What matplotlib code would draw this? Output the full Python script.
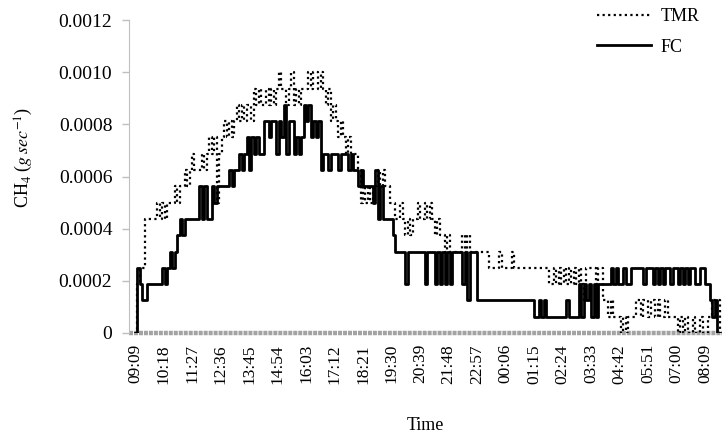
import matplotlib
matplotlib.use("Agg")
import matplotlib.pyplot as plt
import numpy as np

# one sample every 6 minutes, starting at 09:09
SAMPLE_MIN = 6
LEVEL = 0.0000625  # sensor resolution, g/sec per level

# FC (solid) readings, in sensor levels
FC = [
    0, 4, 3, 2, 2, 3, 3, 3, 3, 3, 3, 4, 3, 4, 5, 4, 5, 6, 7, 6,
    7, 7, 7, 7, 7, 7, 9, 7, 9, 7, 7, 9, 8, 9, 9, 9, 9, 9, 10, 9,
    10, 10, 11, 10, 11, 12, 10, 12, 11, 12, 11, 11, 13, 13, 12, 13, 13, 11, 13, 12,
    14, 11, 13, 13, 11, 12, 11, 12, 14, 13, 14, 12, 13, 12, 13, 10, 11, 11, 10, 11,
    11, 11, 10, 11, 11, 11, 10, 11, 10, 10, 9, 10, 9, 9, 9, 9, 8, 10, 7, 9,
    7, 7, 7, 7, 6, 5, 5, 5, 5, 3, 5, 5, 5, 5, 5, 5, 5, 3, 5, 5,
    5, 3, 5, 3, 5, 3, 5, 3, 5, 5, 5, 5, 3, 5, 2, 5, 5, 5, 2, 2,
    2, 2, 2, 2, 2, 2, 2, 2, 2, 2, 2, 2, 2, 2, 2, 2, 2, 2, 2, 2,
    2, 1, 1, 2, 1, 2, 1, 1, 1, 1, 1, 1, 1, 1, 2, 1, 1, 1, 1, 3,
    1, 3, 2, 3, 1, 3, 1, 3, 3, 3, 3, 3, 4, 3, 4, 3, 3, 4, 3, 3,
    4, 4, 4, 4, 4, 3, 4, 4, 4, 3, 4, 3, 4, 3, 4, 4, 3, 4, 4, 3,
    4, 3, 4, 3, 4, 4, 3, 3, 4, 4, 3, 3, 2, 1, 2, 0, 0,
]

# TMR (dotted) readings, in sensor levels
TMR = [
    0, 3, 4, 4, 7, 7, 7, 7, 7, 8, 7, 8, 7, 8, 8, 8, 9, 8, 9, 9,
    10, 9, 10, 11, 10, 10, 10, 11, 10, 11, 12, 11, 12, 8, 11, 12, 13, 12, 13, 12,
    13, 14, 13, 14, 13, 14, 14, 13, 15, 14, 15, 14, 14, 15, 14, 15, 14, 15, 16, 15,
    15, 14, 15, 16, 14, 15, 14, 15, 15, 15, 16, 15, 16, 16, 15, 16, 15, 14, 15, 13,
    14, 13, 12, 13, 12, 11, 12, 11, 11, 11, 10, 8, 9, 8, 9, 8, 9, 9, 10, 9,
    10, 9, 9, 8, 8, 7, 7, 8, 7, 6, 7, 6, 7, 7, 8, 7, 7, 8, 7, 8,
    7, 6, 7, 6, 6, 5, 6, 5, 5, 5, 5, 5, 6, 5, 6, 5, 5, 5, 5, 5,
    5, 5, 5, 4, 4, 4, 4, 5, 4, 4, 4, 4, 5, 4, 4, 4, 4, 4, 4, 4,
    4, 4, 4, 4, 4, 4, 4, 3, 3, 4, 3, 4, 3, 4, 3, 4, 3, 4, 3, 4,
    3, 2, 4, 4, 4, 4, 3, 4, 4, 2, 2, 1, 2, 1, 1, 1, 0, 1, 0, 1,
    1, 1, 2, 2, 1, 2, 2, 1, 2, 2, 1, 2, 1, 1, 2, 1, 1, 1, 1, 0,
    1, 0, 1, 0, 0, 1, 0, 0, 1, 0, 0, 1, 1, 2, 2, 2, 0,
]

TICK_LABELS = [
    "09:09", "10:18", "11:27", "12:36", "13:45", "14:54", "16:03", "17:12",
    "18:21", "19:30", "20:39", "21:48", "22:57", "00:06", "01:15", "02:24",
    "03:33", "04:42", "05:51", "07:00", "08:09",
]
TICK_STEP_MIN = 69

Y_TICKS = [0, 0.0002, 0.0004, 0.0006, 0.0008, 0.0010, 0.0012]
Y_LABELS = ["0", "0.0002", "0.0004", "0.0006", "0.0008", "0.0010", "0.0012"]

plt.rcParams["font.family"] = ["Liberation Serif", "DejaVu Serif"]
plt.rcParams["mathtext.fontset"] = "stix"

fig = plt.figure(figsize=(7.23, 4.37), dpi=100, facecolor="white")
ax = fig.add_axes([0.1784, 0.238, 0.8202, 0.716])

minutes = np.arange(len(FC)) * SAMPLE_MIN
fc = np.array(FC) * LEVEL
tmr = np.array(TMR) * LEVEL

x0, x1 = -14.5, 1421

# the flat zero series shown as a grey band of square markers
ax.plot([x0, x1], [0, 0], color="#a3a3a3", lw=3.2,
        dashes=(0.9, 0.22), solid_capstyle="butt", zorder=1, clip_on=False)

ax.plot(minutes, tmr, color="black", lw=1.6, linestyle=(0, (1, 1.5)),
        drawstyle="steps-post", label="TMR", zorder=3)
ax.plot(minutes, fc, color="black", lw=2.0, drawstyle="steps-post",
        label="FC", zorder=2)

ax.set_xlim(x0, x1)
ax.set_ylim(0, 0.0012)

ax.set_yticks(Y_TICKS)
ax.set_yticklabels(Y_LABELS, fontsize=14)
ax.set_xticks(np.arange(len(TICK_LABELS)) * TICK_STEP_MIN)
ax.set_xticklabels(TICK_LABELS, rotation=90, fontsize=12.5)
ax.tick_params(axis="x", length=0, pad=8)
ax.tick_params(axis="y", length=5, color="#bfbfbf", width=1, pad=7)

for s in ("top", "right", "bottom"):
    ax.spines[s].set_visible(False)
ax.spines["left"].set_color("#bfbfbf")

ax.set_xlabel("Time", fontsize=13, labelpad=24)
ax.set_ylabel(r"CH$_4$ ($g\,sec^{-1}$)", fontsize=13)
ax.yaxis.set_label_coords(-0.158, 0.56)

ax.legend(loc="upper right", bbox_to_anchor=(0.99, 1.09), frameon=False,
          fontsize=13, handlelength=3.0, handletextpad=0.55, labelspacing=0.75)

fig.savefig("out.png", dpi=100, facecolor="white")
